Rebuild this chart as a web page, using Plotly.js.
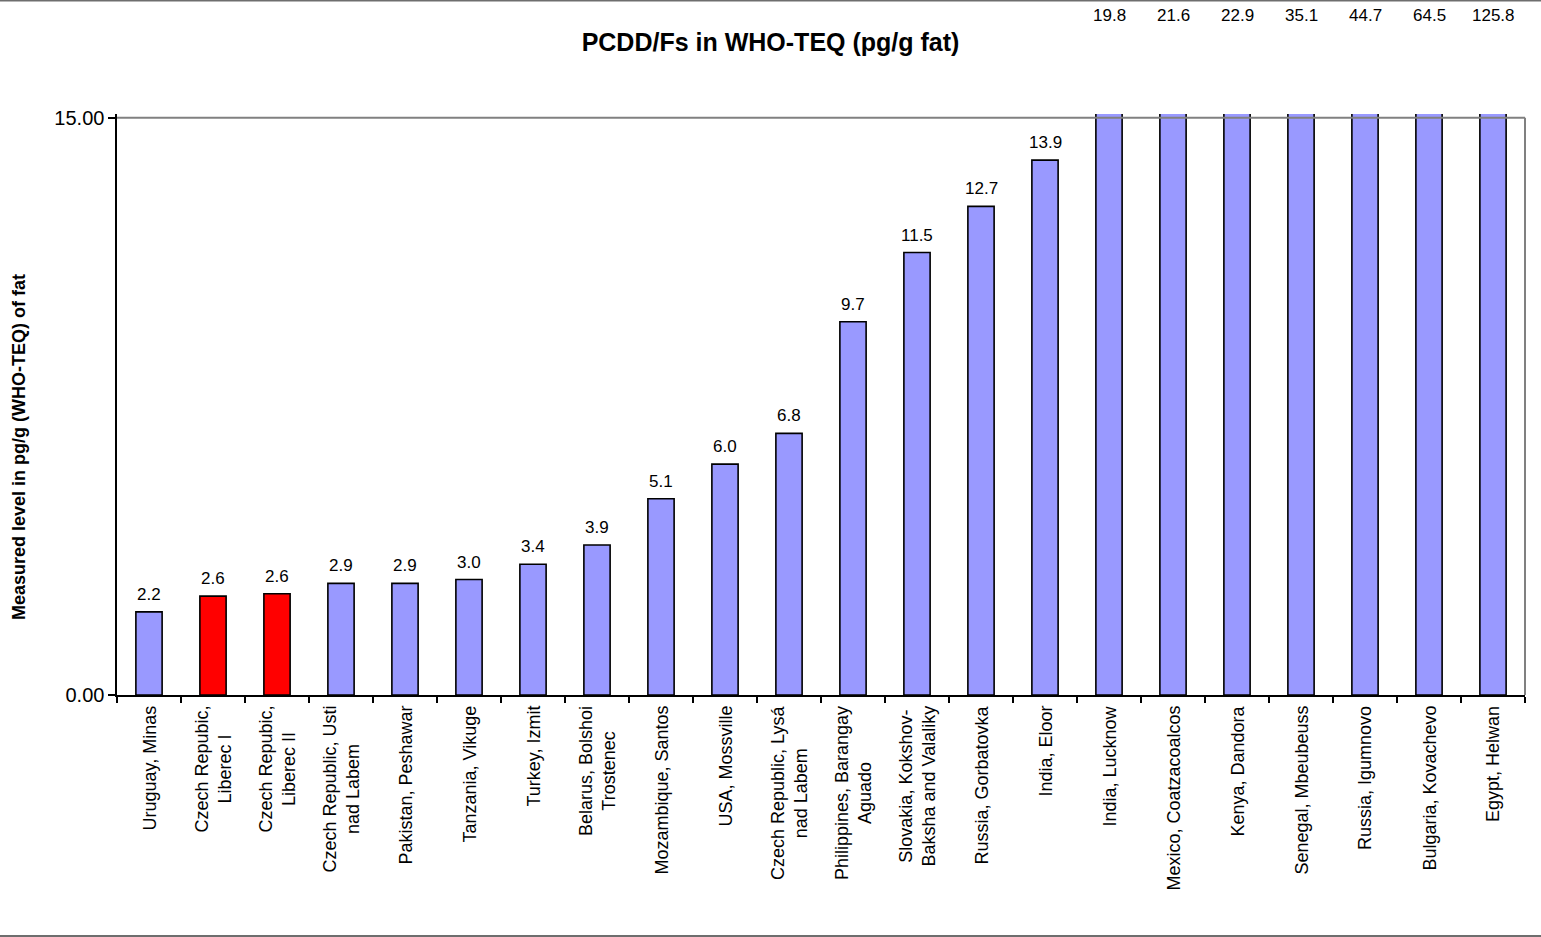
<!DOCTYPE html>
<html>
<head>
<meta charset="utf-8">
<script src="https://cdn.plot.ly/plotly-3.0.1.min.js"></script>
<style>html,body{margin:0;padding:0;background:#fff;}#chart{width:1541px;height:937px;}</style>
</head>
<body>
<div id="chart"></div>
<script>
// ---- data ----
const categories = [
  "Uruguay, Minas",
  "Czech Repubic,<br>Liberec I",
  "Czech Repubic,<br>Liberec II",
  "Czech Republic, Usti<br>nad Labem",
  "Pakistan, Peshawar",
  "Tanzania, Vikuge",
  "Turkey, Izmit",
  "Belarus, Bolshoi<br>Trostenec",
  "Mozambique, Santos",
  "USA, Mossville",
  "Czech Republic, Lysá<br>nad Labem",
  "Philippines, Barangay<br>Aguado",
  "Slovakia, Kokshov-<br>Baksha and Valaliky",
  "Russia, Gorbatovka",
  "India, Eloor",
  "India, Lucknow",
  "Mexico, Coatzacoalcos",
  "Kenya, Dandora",
  "Senegal, Mbeubeuss",
  "Russia, Igumnovo",
  "Bulgaria, Kovachevo",
  "Egypt, Helwan"
];
const values = [2.16, 2.57, 2.63, 2.9, 2.9, 3.0, 3.4, 3.9, 5.1, 6.0, 6.8, 9.7, 11.5, 12.7, 13.9, 19.8, 21.6, 22.9, 35.1, 44.7, 64.5, 125.8];
const highlighted = ["Czech Repubic,<br>Liberec I", "Czech Repubic,<br>Liberec II"];
const axisMax = 15;
const yTickVals = [0, 15];
const titleText = "PCDD/Fs in WHO-TEQ (pg/g fat)";
const yTitleText = "Measured level in pg/g (WHO-TEQ) of fat";

// ---- layout geometry ----
const W = 1541, H = 937;
const mL = 117, mR = 16, mT = 114, mB = 242;
const plotH = H - mT - mB;
const plotW = W - mL - mR;
const pyToPaper = py => (H - mB - py) / plotH;
const pxToPaper = px => (px - mL) / plotW;
const FONT = "Liberation Sans, Arial, sans-serif";

const colors = categories.map(c => highlighted.includes(c) ? "#FF0000" : "#9999FF");

const trace = {
  type: "bar",
  x: categories,
  y: values,
  marker: { color: colors, line: { color: "#000000", width: 1.6 } },
  hoverinfo: "x+y",
  cliponaxis: true
};

const annotations = [];
categories.forEach((c, i) => {
  const v = values[i];
  const txt = v.toFixed(1);
  if (v <= axisMax) {
    annotations.push({ x: c, y: v, xref: "x", yref: "y", text: txt, showarrow: false,
      yanchor: "bottom", yshift: 6, font: { family: FONT, size: 17, color: "#000" } });
  } else {
    annotations.push({ x: c, y: pyToPaper(15), xref: "x", yref: "paper", text: txt, showarrow: false,
      yanchor: "middle", font: { family: FONT, size: 17, color: "#000" } });
  }
  annotations.push({ x: c, y: 0, xref: "x", yref: "y", text: c, showarrow: false,
    textangle: -90, yanchor: "top", xanchor: "center", align: "center", yshift: -9,
    font: { family: FONT, size: 18, color: "#000" } });
});
annotations.push({ x: pxToPaper(19), y: pyToPaper(447), xref: "paper", yref: "paper",
  text: "<b>" + yTitleText + "</b>", showarrow: false, textangle: -90,
  xanchor: "center", yanchor: "middle", font: { family: FONT, size: 18, color: "#000" } });

const shapes = [
  { type: "line", xref: "paper", yref: "y", x0: 0, x1: 1, y0: axisMax, y1: axisMax, line: { color: "#808080", width: 2 } },
  { type: "line", xref: "paper", yref: "y", x0: 1, x1: 1, y0: 0, y1: axisMax, line: { color: "#808080", width: 2 } },
  { type: "line", xref: "paper", yref: "paper", x0: pxToPaper(0), x1: pxToPaper(W), y0: pyToPaper(0.5), y1: pyToPaper(0.5), line: { color: "#6e6e6e", width: 2 } },
  { type: "line", xref: "paper", yref: "paper", x0: pxToPaper(0), x1: pxToPaper(W), y0: pyToPaper(936), y1: pyToPaper(936), line: { color: "#6e6e6e", width: 2 } }
];

const layout = {
  width: W, height: H,
  margin: { l: mL, r: mR, t: mT, b: mB, pad: 0 },
  paper_bgcolor: "#fff", plot_bgcolor: "#fff",
  showlegend: false,
  bargap: 0.59,
  title: { text: "<b>" + titleText + "</b>", x: 0.5, xanchor: "center", y: 1 - 42 / H, yanchor: "middle",
    font: { family: FONT, size: 25, color: "#000" } },
  xaxis: {
    type: "category",
    showticklabels: false,
    ticks: "outside", tickson: "boundaries", ticklen: 6, tickwidth: 1.3, tickcolor: "#000",
    showline: true, linecolor: "#000", linewidth: 1.6,
    showgrid: false, zeroline: false, fixedrange: true
  },
  yaxis: {
    range: [0, 15.1],
    tickvals: yTickVals, tickformat: ".2f",
    ticks: "outside", ticklen: 7, tickwidth: 1.3, tickcolor: "#000",
    showline: true, linecolor: "#000", linewidth: 1.6,
    showgrid: false, zeroline: false,
    tickfont: { family: FONT, size: 20, color: "#000" },
    fixedrange: true
  },
  annotations: annotations,
  shapes: shapes
};

Plotly.newPlot("chart", [trace], layout, { staticPlot: true, displayModeBar: false });
</script>
</body>
</html>
